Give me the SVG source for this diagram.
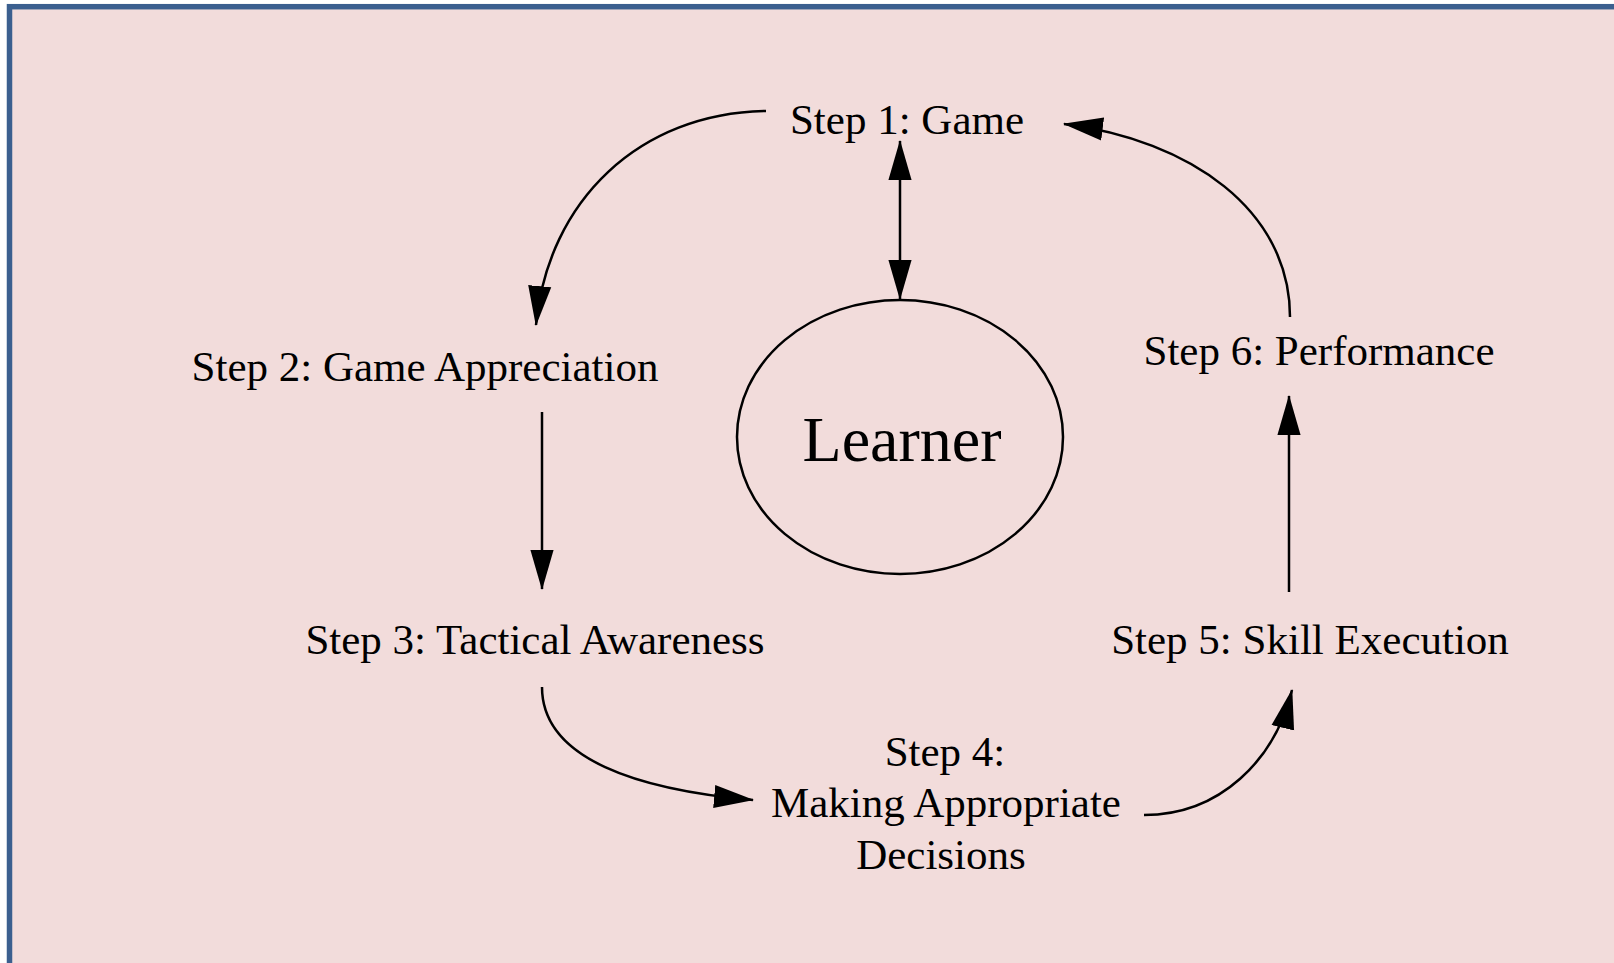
<svg xmlns="http://www.w3.org/2000/svg" width="1614" height="963" viewBox="0 0 1614 963">
<defs>
<marker id="ah" markerUnits="userSpaceOnUse" markerWidth="40" markerHeight="24" viewBox="0 0 38 22" refX="37" refY="11" orient="auto-start-reverse">
<path d="M0,0 L38,11 L0,22 Z" fill="#000"/>
</marker>
<style>
.lbl{font-family:"Liberation Serif","Times New Roman",serif;font-size:43px;fill:#000}
.big{font-family:"Liberation Serif","Times New Roman",serif;font-size:64px;fill:#000}
.conn{fill:none;stroke:#000;stroke-width:2.5}
</style>
</defs>
<rect x="0" y="0" width="1614" height="963" fill="#ffffff"/>
<rect id="frame" x="9.5" y="6.7" width="1640" height="1000" fill="#f2dcdb" stroke="#3b5f8f" stroke-width="5.5"/>
<g id="connectors">
<path class="conn" d="M766,111 C640,113 548,200 536,325" marker-end="url(#ah)"/>
<path class="conn" d="M900,141 L900,299" marker-start="url(#ah)" marker-end="url(#ah)"/>
<path class="conn" d="M542,412 L542,589" marker-end="url(#ah)"/>
<path class="conn" d="M542,687 C542,760 640,790 753,800" marker-end="url(#ah)"/>
<path class="conn" d="M1144,815 C1220,815 1275,760 1292,690" marker-end="url(#ah)"/>
<path class="conn" d="M1289,592 L1289,396" marker-end="url(#ah)"/>
<path class="conn" d="M1290,317 C1290,210 1190,140 1064,124" marker-end="url(#ah)"/>
</g>
<g id="step1"><text class="lbl" x="907" y="134" text-anchor="middle">Step 1: Game</text></g>
<g id="step2"><text class="lbl" x="425" y="381" text-anchor="middle">Step 2: Game Appreciation</text></g>
<g id="step3"><text class="lbl" x="535" y="654" text-anchor="middle">Step 3: Tactical Awareness</text></g>
<g id="step4">
<text class="lbl" x="945" y="766" text-anchor="middle">Step 4:</text>
<text class="lbl" x="946" y="817" text-anchor="middle">Making Appropriate</text>
<text class="lbl" x="941" y="869" text-anchor="middle">Decisions</text>
</g>
<g id="step5"><text class="lbl" x="1310" y="654" text-anchor="middle">Step 5: Skill Execution</text></g>
<g id="step6"><text class="lbl" x="1319" y="365" text-anchor="middle">Step 6: Performance</text></g>
<g id="learner">
<ellipse cx="900" cy="437" rx="163" ry="137" fill="none" stroke="#000" stroke-width="2.5"/>
<text class="big" x="902" y="461" text-anchor="middle">Learner</text>
</g>
</svg>
